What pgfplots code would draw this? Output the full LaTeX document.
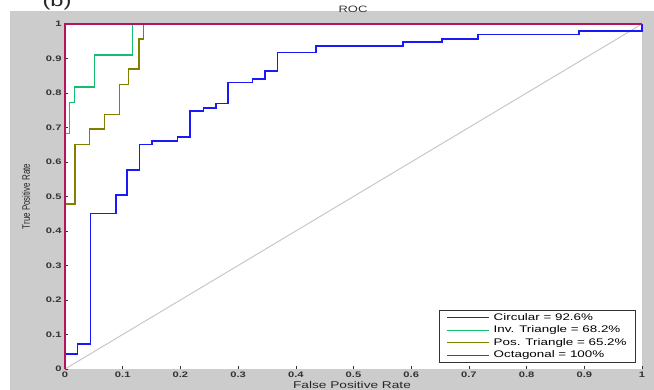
\documentclass[border=0pt]{standalone}
\usepackage{fontspec}
\setmainfont{Liberation Sans}
\newfontfamily\wide[FakeStretch=1.4]{Liberation Sans}
\usepackage{pgfplots}
\pgfplotsset{compat=1.18}
\definecolor{figgray}{RGB}{204,204,204}
\definecolor{cblue}{RGB}{25,25,250}
\definecolor{cgreen}{RGB}{20,190,110}
\definecolor{colive}{RGB}{128,128,0}
\definecolor{cmag}{RGB}{180,20,90}
\definecolor{cdiag}{RGB}{200,200,200}
\begin{document}
\begin{tikzpicture}
\useasboundingbox (0,0) rectangle (654bp,390bp);
\clip (0,0) rectangle (654bp,390bp);
\fill[figgray] (10bp,0) rectangle (654bp,379bp);
\node[anchor=base, font=\wide\fontsize{17}{18}\selectfont, text=black!85] at (57bp,383.6bp) {(b)};
\begin{axis}[
  at={(65bp,21bp)}, anchor=south west,
  scale only axis, width=577bp, height=345bp,
  xmin=0, xmax=1, ymin=0, ymax=1,
  clip=false,
  axis background/.style={fill=white},
  axis line style={draw=none},
  tick pos=left,
  tick align=inside,
  major tick length=3bp,
  tick style={draw=black!80, line width=0.6bp},
  xtick={0,0.1,...,1.01}, ytick={0,0.1,...,1.01},
  /pgf/number format/assume math mode=true,
  tick label style={font=\wide\bfseries\fontsize{8}{9}\selectfont, text=black!80},
  xticklabel style={yshift=0.5bp},
  title={ROC},
  title style={at={(0.4991,1.0165)}, anchor=base, font=\wide\fontsize{9.3}{10}\selectfont, text=black!80, inner sep=0pt},
  xlabel={False Positive Rate},
  xlabel style={at={(0.4974,-0.0560)}, anchor=base, font=\wide\fontsize{9.8}{10}\selectfont, text=black!85, inner sep=0pt},
  ylabel={\scalebox{1}[1.35]{True Positive Rate}},
  ylabel style={at={(-0.0676,0.5)}, anchor=center, font=\fontsize{8}{9}\selectfont, text=black!85, inner sep=0pt},
  legend cell align=left,
  legend image code/.code={\draw[#1, line width=0.9bp] (0bp,0bp) -- (42bp,0bp);},
  legend style={at={(0.9896,0.0174)}, anchor=south east, draw=black!80, line width=0.8bp, fill=white,
    inner xsep=7.5bp, inner ysep=1bp, row sep=0pt, column sep=2.5bp,
    font=\wide\fontsize{9.6}{10}\selectfont,
    nodes={inner sep=1.5bp, text height=7.2bp, text depth=2.3bp}},
]
\addplot[cdiag, line width=1bp, forget plot] coordinates {(0,0) (1,1)};
\addplot[cblue, line width=1.6bp] coordinates {
(0,0) (0,0.043) (0.022,0.043) (0.022,0.072) (0.044,0.072) (0.044,0.451) (0.088,0.451) (0.088,0.505)
(0.107,0.505) (0.107,0.577) (0.129,0.577) (0.129,0.651) (0.151,0.651) (0.151,0.661) (0.195,0.661)
(0.195,0.672) (0.217,0.672) (0.217,0.748) (0.240,0.748) (0.240,0.757) (0.262,0.757) (0.262,0.769)
(0.282,0.769) (0.282,0.831) (0.325,0.831) (0.325,0.841) (0.347,0.841) (0.347,0.864) (0.368,0.864)
(0.368,0.917) (0.435,0.917) (0.435,0.937) (0.586,0.937) (0.586,0.948) (0.653,0.948) (0.653,0.957)
(0.716,0.957) (0.716,0.969) (0.891,0.969) (0.891,0.979) (1,0.979) (1,1)};
\addlegendentry{Circular = 92.6\%}
\addplot[cgreen, line width=1.4bp] coordinates {
(0,0) (0,0.682) (0.008,0.682) (0.008,0.772) (0.016,0.772) (0.016,0.817) (0.051,0.817) (0.051,0.910)
(0.117,0.910) (0.117,1) (1,1)};
\addlegendentry{Inv. Triangle = 68.2\%}
\addplot[colive, line width=1.4bp] coordinates {
(0,0) (0,0.478) (0.017,0.478) (0.017,0.651) (0.042,0.651) (0.042,0.696) (0.068,0.696) (0.068,0.738)
(0.094,0.738) (0.094,0.825) (0.110,0.825) (0.110,0.869) (0.128,0.869) (0.128,0.957) (0.136,0.957)
(0.136,1) (1,1)};
\addlegendentry{Pos. Triangle = 65.2\%}
\addplot[cmag, line width=1.2bp] coordinates {(0,0) (0,1) (1,1)};
\addlegendentry{Octagonal = 100\%}
\end{axis}
\end{tikzpicture}
\end{document}
